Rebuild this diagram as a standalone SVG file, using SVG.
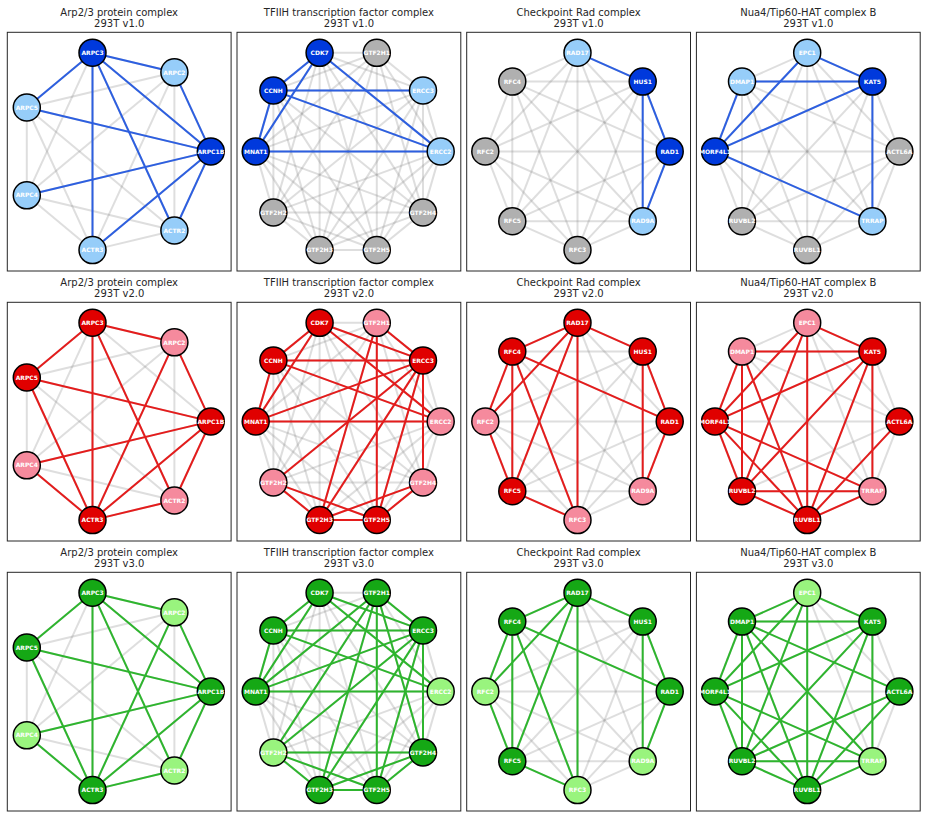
<svg xmlns="http://www.w3.org/2000/svg" xmlns:xlink="http://www.w3.org/1999/xlink" width="926" height="818" viewBox="0 0 926 818">
<style>
  .frame { fill: none; stroke: #262626; stroke-width: 1; }
  .t { font-family: "DejaVu Sans", sans-serif; font-size: 10px; fill: #262626; text-anchor: middle; }
  .bg path { fill: none; stroke: #808080; stroke-opacity: 0.26; stroke-width: 2; }
  .eb path, .er path, .eg path { fill: none; stroke-width: 2; }
  .eb path { stroke: #2D5FE0; }
  .er path { stroke: #E41C1C; }
  .eg path { stroke: #2EB52E; }
  circle { stroke: #000; stroke-width: 1.5; }
  .bd { fill: #0039DC; } .bl { fill: #96CDF9; } .gy { fill: #B0B0B0; }
  .rd { fill: #E00000; } .rl { fill: #F58A9D; }
  .gd { fill: #15A815; } .gl { fill: #99F47E; }
  .n text { font-family: "DejaVu Sans", sans-serif; font-size: 6px; font-weight: bold; fill: #fff; text-anchor: middle; }
</style>
<defs>
  <!-- complete graphs on 7, 10 and 8 nodes, local coordinates -->
  <g id="k7" class="bg">
    <path d="M96.8 0L60.4-79.1"/><path d="M96.8 0L-21.5-98.7"/><path d="M96.8 0L-87.2-43.9"/><path d="M96.8 0L-87.2 43.9"/><path d="M96.8 0L-21.5 98.7"/><path d="M96.8 0L60.4 79.1"/>
    <path d="M60.4-79.1L-21.5-98.7"/><path d="M60.4-79.1L-87.2-43.9"/><path d="M60.4-79.1L-87.2 43.9"/><path d="M60.4-79.1L-21.5 98.7"/><path d="M60.4-79.1L60.4 79.1"/>
    <path d="M-21.5-98.7L-87.2-43.9"/><path d="M-21.5-98.7L-87.2 43.9"/><path d="M-21.5-98.7L-21.5 98.7"/><path d="M-21.5-98.7L60.4 79.1"/>
    <path d="M-87.2-43.9L-87.2 43.9"/><path d="M-87.2-43.9L-21.5 98.7"/><path d="M-87.2-43.9L60.4 79.1"/>
    <path d="M-87.2 43.9L-21.5 98.7"/><path d="M-87.2 43.9L60.4 79.1"/>
    <path d="M-21.5 98.7L60.4 79.1"/>
  </g>
  <g id="k10" class="bg">
    <path d="M92.5 0L74.8-61"/><path d="M92.5 0L28.6-98.6"/><path d="M92.5 0L-28.6-98.6"/><path d="M92.5 0L-74.8-61"/><path d="M92.5 0L-92.5 0"/><path d="M92.5 0L-74.8 61"/><path d="M92.5 0L-28.6 98.6"/><path d="M92.5 0L28.6 98.6"/><path d="M92.5 0L74.8 61"/>
    <path d="M74.8-61L28.6-98.6"/><path d="M74.8-61L-28.6-98.6"/><path d="M74.8-61L-74.8-61"/><path d="M74.8-61L-92.5 0"/><path d="M74.8-61L-74.8 61"/><path d="M74.8-61L-28.6 98.6"/><path d="M74.8-61L28.6 98.6"/><path d="M74.8-61L74.8 61"/>
    <path d="M28.6-98.6L-28.6-98.6"/><path d="M28.6-98.6L-74.8-61"/><path d="M28.6-98.6L-92.5 0"/><path d="M28.6-98.6L-74.8 61"/><path d="M28.6-98.6L-28.6 98.6"/><path d="M28.6-98.6L28.6 98.6"/><path d="M28.6-98.6L74.8 61"/>
    <path d="M-28.6-98.6L-74.8-61"/><path d="M-28.6-98.6L-92.5 0"/><path d="M-28.6-98.6L-74.8 61"/><path d="M-28.6-98.6L-28.6 98.6"/><path d="M-28.6-98.6L28.6 98.6"/><path d="M-28.6-98.6L74.8 61"/>
    <path d="M-74.8-61L-92.5 0"/><path d="M-74.8-61L-74.8 61"/><path d="M-74.8-61L-28.6 98.6"/><path d="M-74.8-61L28.6 98.6"/><path d="M-74.8-61L74.8 61"/>
    <path d="M-92.5 0L-74.8 61"/><path d="M-92.5 0L-28.6 98.6"/><path d="M-92.5 0L28.6 98.6"/><path d="M-92.5 0L74.8 61"/>
    <path d="M-74.8 61L-28.6 98.6"/><path d="M-74.8 61L28.6 98.6"/><path d="M-74.8 61L74.8 61"/>
    <path d="M-28.6 98.6L28.6 98.6"/><path d="M-28.6 98.6L74.8 61"/>
    <path d="M28.6 98.6L74.8 61"/>
  </g>
  <g id="k8" class="bg">
    <path d="M92.2 0L65.2-69.8"/><path d="M92.2 0L0-98.7"/><path d="M92.2 0L-65.2-69.8"/><path d="M92.2 0L-92.2 0"/><path d="M92.2 0L-65.2 69.8"/><path d="M92.2 0L0 98.7"/><path d="M92.2 0L65.2 69.8"/>
    <path d="M65.2-69.8L0-98.7"/><path d="M65.2-69.8L-65.2-69.8"/><path d="M65.2-69.8L-92.2 0"/><path d="M65.2-69.8L-65.2 69.8"/><path d="M65.2-69.8L0 98.7"/><path d="M65.2-69.8L65.2 69.8"/>
    <path d="M0-98.7L-65.2-69.8"/><path d="M0-98.7L-92.2 0"/><path d="M0-98.7L-65.2 69.8"/><path d="M0-98.7L0 98.7"/><path d="M0-98.7L65.2 69.8"/>
    <path d="M-65.2-69.8L-92.2 0"/><path d="M-65.2-69.8L-65.2 69.8"/><path d="M-65.2-69.8L0 98.7"/><path d="M-65.2-69.8L65.2 69.8"/>
    <path d="M-92.2 0L-65.2 69.8"/><path d="M-92.2 0L0 98.7"/><path d="M-92.2 0L65.2 69.8"/>
    <path d="M-65.2 69.8L0 98.7"/><path d="M-65.2 69.8L65.2 69.8"/>
    <path d="M0 98.7L65.2 69.8"/>
  </g>
</defs>

<rect width="926" height="818" fill="#fff"/>

<g id="frames">
  <rect class="frame" x="7.3" y="32.3" width="223.8" height="238.7"/>
  <rect class="frame" x="237.0" y="32.3" width="223.8" height="238.7"/>
  <rect class="frame" x="466.7" y="32.3" width="223.8" height="238.7"/>
  <rect class="frame" x="696.4" y="32.3" width="223.8" height="238.7"/>
  <rect class="frame" x="7.3" y="302.3" width="223.8" height="238.7"/>
  <rect class="frame" x="237.0" y="302.3" width="223.8" height="238.7"/>
  <rect class="frame" x="466.7" y="302.3" width="223.8" height="238.7"/>
  <rect class="frame" x="696.4" y="302.3" width="223.8" height="238.7"/>
  <rect class="frame" x="7.3" y="572.3" width="223.8" height="238.7"/>
  <rect class="frame" x="237.0" y="572.3" width="223.8" height="238.7"/>
  <rect class="frame" x="466.7" y="572.3" width="223.8" height="238.7"/>
  <rect class="frame" x="696.4" y="572.3" width="223.8" height="238.7"/>
</g>

<g id="titles">
  <text class="t" x="119.2" y="15.7">Arp2/3 protein complex</text><text class="t" x="119.2" y="27.3">293T v1.0</text>
  <text class="t" x="348.9" y="15.7">TFIIH transcription factor complex</text><text class="t" x="348.9" y="27.3">293T v1.0</text>
  <text class="t" x="578.6" y="15.7">Checkpoint Rad complex</text><text class="t" x="578.6" y="27.3">293T v1.0</text>
  <text class="t" x="808.3" y="15.7">Nua4/Tip60-HAT complex B</text><text class="t" x="808.3" y="27.3">293T v1.0</text>
  <text class="t" x="119.2" y="285.7">Arp2/3 protein complex</text><text class="t" x="119.2" y="297.3">293T v2.0</text>
  <text class="t" x="348.9" y="285.7">TFIIH transcription factor complex</text><text class="t" x="348.9" y="297.3">293T v2.0</text>
  <text class="t" x="578.6" y="285.7">Checkpoint Rad complex</text><text class="t" x="578.6" y="297.3">293T v2.0</text>
  <text class="t" x="808.3" y="285.7">Nua4/Tip60-HAT complex B</text><text class="t" x="808.3" y="297.3">293T v2.0</text>
  <text class="t" x="119.2" y="555.7">Arp2/3 protein complex</text><text class="t" x="119.2" y="567.3">293T v3.0</text>
  <text class="t" x="348.9" y="555.7">TFIIH transcription factor complex</text><text class="t" x="348.9" y="567.3">293T v3.0</text>
  <text class="t" x="578.6" y="555.7">Checkpoint Rad complex</text><text class="t" x="578.6" y="567.3">293T v3.0</text>
  <text class="t" x="808.3" y="555.7">Nua4/Tip60-HAT complex B</text><text class="t" x="808.3" y="567.3">293T v3.0</text>
</g>

<!-- ===== v1.0 ===== -->
<g id="arp-v1" transform="translate(114,151.4)">
  <g id="arp-v1-edges">
    <use xlink:href="#k7"/>
    <g class="eb">
      <path d="M-21.5-98.7L60.4-79.1"/><path d="M-21.5-98.7L-87.2-43.9"/><path d="M-21.5-98.7L96.8 0"/><path d="M-21.5-98.7L-21.5 98.7"/><path d="M-21.5-98.7L60.4 79.1"/>
      <path d="M60.4-79.1L96.8 0"/><path d="M-87.2-43.9L96.8 0"/><path d="M-87.2 43.9L96.8 0"/><path d="M96.8 0L60.4 79.1"/><path d="M96.8 0L-21.5 98.7"/>
    </g>
  </g>
  <g id="arp-v1-ARPC1B" class="n"><circle class="bd" cx="96.8" cy="0" r="13.5"/><text x="96.8" y="2.2">ARPC1B</text></g>
  <g id="arp-v1-ARPC2" class="n"><circle class="bl" cx="60.4" cy="-79.1" r="13.5"/><text x="60.4" y="-76.9">ARPC2</text></g>
  <g id="arp-v1-ARPC3" class="n"><circle class="bd" cx="-21.5" cy="-98.7" r="13.5"/><text x="-21.5" y="-96.5">ARPC3</text></g>
  <g id="arp-v1-ARPC5" class="n"><circle class="bl" cx="-87.2" cy="-43.9" r="13.5"/><text x="-87.2" y="-41.7">ARPC5</text></g>
  <g id="arp-v1-ARPC4" class="n"><circle class="bl" cx="-87.2" cy="43.9" r="13.5"/><text x="-87.2" y="46.1">ARPC4</text></g>
  <g id="arp-v1-ACTR3" class="n"><circle class="bl" cx="-21.5" cy="98.7" r="13.5"/><text x="-21.5" y="100.9">ACTR3</text></g>
  <g id="arp-v1-ACTR2" class="n"><circle class="bl" cx="60.4" cy="79.1" r="13.5"/><text x="60.4" y="81.3">ACTR2</text></g>
</g>

<g id="tfiih-v1" transform="translate(348.2,151.4)">
  <g id="tfiih-v1-edges">
    <use xlink:href="#k10"/>
    <g class="eb">
      <path d="M-28.6-98.6L-74.8-61"/><path d="M-28.6-98.6L-92.5 0"/><path d="M-28.6-98.6L92.5 0"/><path d="M-74.8-61L74.8-61"/><path d="M-74.8-61L92.5 0"/><path d="M-74.8-61L-92.5 0"/><path d="M-92.5 0L92.5 0"/>
    </g>
  </g>
  <g id="tfiih-v1-ERCC2" class="n"><circle class="bl" cx="92.5" cy="0" r="13.5"/><text x="92.5" y="2.2">ERCC2</text></g>
  <g id="tfiih-v1-ERCC3" class="n"><circle class="bl" cx="74.8" cy="-61" r="13.5"/><text x="74.8" y="-58.8">ERCC3</text></g>
  <g id="tfiih-v1-GTF2H1" class="n"><circle class="gy" cx="28.6" cy="-98.6" r="13.5"/><text x="28.6" y="-96.4">GTF2H1</text></g>
  <g id="tfiih-v1-CDK7" class="n"><circle class="bd" cx="-28.6" cy="-98.6" r="13.5"/><text x="-28.6" y="-96.4">CDK7</text></g>
  <g id="tfiih-v1-CCNH" class="n"><circle class="bd" cx="-74.8" cy="-61" r="13.5"/><text x="-74.8" y="-58.8">CCNH</text></g>
  <g id="tfiih-v1-MNAT1" class="n"><circle class="bd" cx="-92.5" cy="0" r="13.5"/><text x="-92.5" y="2.2">MNAT1</text></g>
  <g id="tfiih-v1-GTF2H2" class="n"><circle class="gy" cx="-74.8" cy="61" r="13.5"/><text x="-74.8" y="63.2">GTF2H2</text></g>
  <g id="tfiih-v1-GTF2H3" class="n"><circle class="gy" cx="-28.6" cy="98.6" r="13.5"/><text x="-28.6" y="100.8">GTF2H3</text></g>
  <g id="tfiih-v1-GTF2H5" class="n"><circle class="gy" cx="28.6" cy="98.6" r="13.5"/><text x="28.6" y="100.8">GTF2H5</text></g>
  <g id="tfiih-v1-GTF2H4" class="n"><circle class="gy" cx="74.8" cy="61" r="13.5"/><text x="74.8" y="63.2">GTF2H4</text></g>
</g>

<g id="rad-v1" transform="translate(577.5,151.4)">
  <g id="rad-v1-edges">
    <use xlink:href="#k8"/>
    <g class="eb">
      <path d="M0-98.7L65.2-69.8"/><path d="M65.2-69.8L92.2 0"/><path d="M65.2-69.8L65.2 69.8"/><path d="M92.2 0L65.2 69.8"/>
    </g>
  </g>
  <g id="rad-v1-RAD1" class="n"><circle class="bd" cx="92.2" cy="0" r="13.5"/><text x="92.2" y="2.2">RAD1</text></g>
  <g id="rad-v1-HUS1" class="n"><circle class="bd" cx="65.2" cy="-69.8" r="13.5"/><text x="65.2" y="-67.6">HUS1</text></g>
  <g id="rad-v1-RAD17" class="n"><circle class="bl" cx="0" cy="-98.7" r="13.5"/><text x="0" y="-96.5">RAD17</text></g>
  <g id="rad-v1-RFC4" class="n"><circle class="gy" cx="-65.2" cy="-69.8" r="13.5"/><text x="-65.2" y="-67.6">RFC4</text></g>
  <g id="rad-v1-RFC2" class="n"><circle class="gy" cx="-92.2" cy="0" r="13.5"/><text x="-92.2" y="2.2">RFC2</text></g>
  <g id="rad-v1-RFC5" class="n"><circle class="gy" cx="-65.2" cy="69.8" r="13.5"/><text x="-65.2" y="72">RFC5</text></g>
  <g id="rad-v1-RFC3" class="n"><circle class="gy" cx="0" cy="98.7" r="13.5"/><text x="0" y="100.9">RFC3</text></g>
  <g id="rad-v1-RAD9A" class="n"><circle class="bl" cx="65.2" cy="69.8" r="13.5"/><text x="65.2" y="72">RAD9A</text></g>
</g>

<g id="nua4-v1" transform="translate(807.2,151.4)">
  <g id="nua4-v1-edges">
    <use xlink:href="#k8"/>
    <g class="eb">
      <path d="M0-98.7L65.2-69.8"/><path d="M0-98.7L-92.2 0"/><path d="M-65.2-69.8L65.2-69.8"/><path d="M-65.2-69.8L-92.2 0"/><path d="M65.2-69.8L-92.2 0"/><path d="M65.2-69.8L65.2 69.8"/><path d="M-92.2 0L65.2 69.8"/>
    </g>
  </g>
  <g id="nua4-v1-ACTL6A" class="n"><circle class="gy" cx="92.2" cy="0" r="13.5"/><text x="92.2" y="2.2">ACTL6A</text></g>
  <g id="nua4-v1-KAT5" class="n"><circle class="bd" cx="65.2" cy="-69.8" r="13.5"/><text x="65.2" y="-67.6">KAT5</text></g>
  <g id="nua4-v1-EPC1" class="n"><circle class="bl" cx="0" cy="-98.7" r="13.5"/><text x="0" y="-96.5">EPC1</text></g>
  <g id="nua4-v1-DMAP1" class="n"><circle class="bl" cx="-65.2" cy="-69.8" r="13.5"/><text x="-65.2" y="-67.6">DMAP1</text></g>
  <g id="nua4-v1-MORF4L1" class="n"><circle class="bd" cx="-92.2" cy="0" r="13.5"/><text x="-92.2" y="2.2">MORF4L1</text></g>
  <g id="nua4-v1-RUVBL2" class="n"><circle class="gy" cx="-65.2" cy="69.8" r="13.5"/><text x="-65.2" y="72">RUVBL2</text></g>
  <g id="nua4-v1-RUVBL1" class="n"><circle class="gy" cx="0" cy="98.7" r="13.5"/><text x="0" y="100.9">RUVBL1</text></g>
  <g id="nua4-v1-TRRAP" class="n"><circle class="bl" cx="65.2" cy="69.8" r="13.5"/><text x="65.2" y="72">TRRAP</text></g>
</g>

<!-- ===== v2.0 ===== -->
<g id="arp-v2" transform="translate(114,421.4)">
  <g id="arp-v2-edges">
    <use xlink:href="#k7"/>
    <g class="er">
      <path d="M-21.5-98.7L60.4-79.1"/><path d="M-21.5-98.7L-87.2-43.9"/><path d="M-21.5-98.7L-21.5 98.7"/><path d="M-21.5-98.7L60.4 79.1"/>
      <path d="M60.4-79.1L96.8 0"/><path d="M60.4-79.1L-21.5 98.7"/><path d="M-87.2-43.9L96.8 0"/><path d="M-87.2-43.9L-21.5 98.7"/>
      <path d="M-87.2 43.9L96.8 0"/><path d="M-87.2 43.9L-21.5 98.7"/><path d="M96.8 0L-21.5 98.7"/><path d="M96.8 0L60.4 79.1"/><path d="M-21.5 98.7L60.4 79.1"/>
    </g>
  </g>
  <g id="arp-v2-ARPC1B" class="n"><circle class="rd" cx="96.8" cy="0" r="13.5"/><text x="96.8" y="2.2">ARPC1B</text></g>
  <g id="arp-v2-ARPC2" class="n"><circle class="rl" cx="60.4" cy="-79.1" r="13.5"/><text x="60.4" y="-76.9">ARPC2</text></g>
  <g id="arp-v2-ARPC3" class="n"><circle class="rd" cx="-21.5" cy="-98.7" r="13.5"/><text x="-21.5" y="-96.5">ARPC3</text></g>
  <g id="arp-v2-ARPC5" class="n"><circle class="rd" cx="-87.2" cy="-43.9" r="13.5"/><text x="-87.2" y="-41.7">ARPC5</text></g>
  <g id="arp-v2-ARPC4" class="n"><circle class="rl" cx="-87.2" cy="43.9" r="13.5"/><text x="-87.2" y="46.1">ARPC4</text></g>
  <g id="arp-v2-ACTR3" class="n"><circle class="rd" cx="-21.5" cy="98.7" r="13.5"/><text x="-21.5" y="100.9">ACTR3</text></g>
  <g id="arp-v2-ACTR2" class="n"><circle class="rl" cx="60.4" cy="79.1" r="13.5"/><text x="60.4" y="81.3">ACTR2</text></g>
</g>

<g id="tfiih-v2" transform="translate(348.2,421.4)">
  <g id="tfiih-v2-edges">
    <use xlink:href="#k10"/>
    <g class="er">
      <path d="M-28.6-98.6L-74.8-61"/><path d="M-28.6-98.6L-92.5 0"/><path d="M-28.6-98.6L74.8-61"/><path d="M-28.6-98.6L92.5 0"/>
      <path d="M-74.8-61L-92.5 0"/><path d="M-74.8-61L74.8-61"/><path d="M-74.8-61L92.5 0"/><path d="M-92.5 0L74.8-61"/><path d="M-92.5 0L92.5 0"/>
      <path d="M28.6-98.6L74.8-61"/><path d="M28.6-98.6L-28.6 98.6"/><path d="M28.6-98.6L28.6 98.6"/>
      <path d="M74.8-61L-74.8 61"/><path d="M74.8-61L-28.6 98.6"/><path d="M74.8-61L28.6 98.6"/><path d="M74.8-61L74.8 61"/>
      <path d="M-74.8 61L-28.6 98.6"/><path d="M-74.8 61L28.6 98.6"/><path d="M-28.6 98.6L28.6 98.6"/><path d="M-28.6 98.6L74.8 61"/><path d="M28.6 98.6L74.8 61"/>
    </g>
  </g>
  <g id="tfiih-v2-ERCC2" class="n"><circle class="rl" cx="92.5" cy="0" r="13.5"/><text x="92.5" y="2.2">ERCC2</text></g>
  <g id="tfiih-v2-ERCC3" class="n"><circle class="rd" cx="74.8" cy="-61" r="13.5"/><text x="74.8" y="-58.8">ERCC3</text></g>
  <g id="tfiih-v2-GTF2H1" class="n"><circle class="rl" cx="28.6" cy="-98.6" r="13.5"/><text x="28.6" y="-96.4">GTF2H1</text></g>
  <g id="tfiih-v2-CDK7" class="n"><circle class="rd" cx="-28.6" cy="-98.6" r="13.5"/><text x="-28.6" y="-96.4">CDK7</text></g>
  <g id="tfiih-v2-CCNH" class="n"><circle class="rd" cx="-74.8" cy="-61" r="13.5"/><text x="-74.8" y="-58.8">CCNH</text></g>
  <g id="tfiih-v2-MNAT1" class="n"><circle class="rd" cx="-92.5" cy="0" r="13.5"/><text x="-92.5" y="2.2">MNAT1</text></g>
  <g id="tfiih-v2-GTF2H2" class="n"><circle class="rl" cx="-74.8" cy="61" r="13.5"/><text x="-74.8" y="63.2">GTF2H2</text></g>
  <g id="tfiih-v2-GTF2H3" class="n"><circle class="rd" cx="-28.6" cy="98.6" r="13.5"/><text x="-28.6" y="100.8">GTF2H3</text></g>
  <g id="tfiih-v2-GTF2H5" class="n"><circle class="rd" cx="28.6" cy="98.6" r="13.5"/><text x="28.6" y="100.8">GTF2H5</text></g>
  <g id="tfiih-v2-GTF2H4" class="n"><circle class="rl" cx="74.8" cy="61" r="13.5"/><text x="74.8" y="63.2">GTF2H4</text></g>
</g>

<g id="rad-v2" transform="translate(577.5,421.4)">
  <g id="rad-v2-edges">
    <use xlink:href="#k8"/>
    <g class="er">
      <path d="M0-98.7L65.2-69.8"/><path d="M0-98.7L-65.2-69.8"/><path d="M0-98.7L-92.2 0"/><path d="M0-98.7L-65.2 69.8"/><path d="M0-98.7L0 98.7"/>
      <path d="M-65.2-69.8L-92.2 0"/><path d="M-65.2-69.8L-65.2 69.8"/><path d="M-65.2-69.8L0 98.7"/><path d="M-65.2-69.8L92.2 0"/>
      <path d="M65.2-69.8L92.2 0"/><path d="M65.2-69.8L65.2 69.8"/><path d="M92.2 0L65.2 69.8"/><path d="M-92.2 0L-65.2 69.8"/><path d="M-65.2 69.8L0 98.7"/>
    </g>
  </g>
  <g id="rad-v2-RAD1" class="n"><circle class="rd" cx="92.2" cy="0" r="13.5"/><text x="92.2" y="2.2">RAD1</text></g>
  <g id="rad-v2-HUS1" class="n"><circle class="rd" cx="65.2" cy="-69.8" r="13.5"/><text x="65.2" y="-67.6">HUS1</text></g>
  <g id="rad-v2-RAD17" class="n"><circle class="rd" cx="0" cy="-98.7" r="13.5"/><text x="0" y="-96.5">RAD17</text></g>
  <g id="rad-v2-RFC4" class="n"><circle class="rd" cx="-65.2" cy="-69.8" r="13.5"/><text x="-65.2" y="-67.6">RFC4</text></g>
  <g id="rad-v2-RFC2" class="n"><circle class="rl" cx="-92.2" cy="0" r="13.5"/><text x="-92.2" y="2.2">RFC2</text></g>
  <g id="rad-v2-RFC5" class="n"><circle class="rd" cx="-65.2" cy="69.8" r="13.5"/><text x="-65.2" y="72">RFC5</text></g>
  <g id="rad-v2-RFC3" class="n"><circle class="rl" cx="0" cy="98.7" r="13.5"/><text x="0" y="100.9">RFC3</text></g>
  <g id="rad-v2-RAD9A" class="n"><circle class="rl" cx="65.2" cy="69.8" r="13.5"/><text x="65.2" y="72">RAD9A</text></g>
</g>

<g id="nua4-v2" transform="translate(807.2,421.4)">
  <g id="nua4-v2-edges">
    <use xlink:href="#k8"/>
    <g class="er">
      <path d="M0-98.7L65.2-69.8"/><path d="M0-98.7L-92.2 0"/><path d="M0-98.7L-65.2 69.8"/><path d="M0-98.7L0 98.7"/>
      <path d="M-65.2-69.8L65.2-69.8"/><path d="M-65.2-69.8L-92.2 0"/><path d="M-65.2-69.8L-65.2 69.8"/><path d="M-65.2-69.8L0 98.7"/>
      <path d="M65.2-69.8L-92.2 0"/><path d="M65.2-69.8L65.2 69.8"/><path d="M65.2-69.8L-65.2 69.8"/><path d="M65.2-69.8L0 98.7"/>
      <path d="M-92.2 0L-65.2 69.8"/><path d="M-92.2 0L0 98.7"/><path d="M-92.2 0L65.2 69.8"/><path d="M92.2 0L0 98.7"/>
      <path d="M-65.2 69.8L65.2 69.8"/><path d="M-65.2 69.8L0 98.7"/><path d="M0 98.7L65.2 69.8"/>
    </g>
  </g>
  <g id="nua4-v2-ACTL6A" class="n"><circle class="rd" cx="92.2" cy="0" r="13.5"/><text x="92.2" y="2.2">ACTL6A</text></g>
  <g id="nua4-v2-KAT5" class="n"><circle class="rd" cx="65.2" cy="-69.8" r="13.5"/><text x="65.2" y="-67.6">KAT5</text></g>
  <g id="nua4-v2-EPC1" class="n"><circle class="rl" cx="0" cy="-98.7" r="13.5"/><text x="0" y="-96.5">EPC1</text></g>
  <g id="nua4-v2-DMAP1" class="n"><circle class="rl" cx="-65.2" cy="-69.8" r="13.5"/><text x="-65.2" y="-67.6">DMAP1</text></g>
  <g id="nua4-v2-MORF4L1" class="n"><circle class="rd" cx="-92.2" cy="0" r="13.5"/><text x="-92.2" y="2.2">MORF4L1</text></g>
  <g id="nua4-v2-RUVBL2" class="n"><circle class="rd" cx="-65.2" cy="69.8" r="13.5"/><text x="-65.2" y="72">RUVBL2</text></g>
  <g id="nua4-v2-RUVBL1" class="n"><circle class="rd" cx="0" cy="98.7" r="13.5"/><text x="0" y="100.9">RUVBL1</text></g>
  <g id="nua4-v2-TRRAP" class="n"><circle class="rl" cx="65.2" cy="69.8" r="13.5"/><text x="65.2" y="72">TRRAP</text></g>
</g>

<!-- ===== v3.0 ===== -->
<g id="arp-v3" transform="translate(114,691.4)">
  <g id="arp-v3-edges">
    <use xlink:href="#k7"/>
    <g class="eg">
      <path d="M-21.5-98.7L60.4-79.1"/><path d="M-21.5-98.7L-87.2-43.9"/><path d="M-21.5-98.7L-21.5 98.7"/><path d="M-21.5-98.7L60.4 79.1"/><path d="M-21.5-98.7L96.8 0"/>
      <path d="M60.4-79.1L96.8 0"/><path d="M60.4-79.1L-21.5 98.7"/><path d="M-87.2-43.9L96.8 0"/><path d="M-87.2-43.9L-21.5 98.7"/>
      <path d="M-87.2 43.9L96.8 0"/><path d="M-87.2 43.9L-21.5 98.7"/><path d="M96.8 0L-21.5 98.7"/><path d="M96.8 0L60.4 79.1"/><path d="M-21.5 98.7L60.4 79.1"/>
    </g>
  </g>
  <g id="arp-v3-ARPC1B" class="n"><circle class="gd" cx="96.8" cy="0" r="13.5"/><text x="96.8" y="2.2">ARPC1B</text></g>
  <g id="arp-v3-ARPC2" class="n"><circle class="gl" cx="60.4" cy="-79.1" r="13.5"/><text x="60.4" y="-76.9">ARPC2</text></g>
  <g id="arp-v3-ARPC3" class="n"><circle class="gd" cx="-21.5" cy="-98.7" r="13.5"/><text x="-21.5" y="-96.5">ARPC3</text></g>
  <g id="arp-v3-ARPC5" class="n"><circle class="gd" cx="-87.2" cy="-43.9" r="13.5"/><text x="-87.2" y="-41.7">ARPC5</text></g>
  <g id="arp-v3-ARPC4" class="n"><circle class="gl" cx="-87.2" cy="43.9" r="13.5"/><text x="-87.2" y="46.1">ARPC4</text></g>
  <g id="arp-v3-ACTR3" class="n"><circle class="gd" cx="-21.5" cy="98.7" r="13.5"/><text x="-21.5" y="100.9">ACTR3</text></g>
  <g id="arp-v3-ACTR2" class="n"><circle class="gl" cx="60.4" cy="79.1" r="13.5"/><text x="60.4" y="81.3">ACTR2</text></g>
</g>

<g id="tfiih-v3" transform="translate(348.2,691.4)">
  <g id="tfiih-v3-edges">
    <use xlink:href="#k10"/>
    <g class="eg">
      <path d="M-28.6-98.6L-74.8-61"/><path d="M-28.6-98.6L-92.5 0"/><path d="M-28.6-98.6L74.8-61"/><path d="M-28.6-98.6L92.5 0"/>
      <path d="M-74.8-61L-92.5 0"/><path d="M-74.8-61L74.8-61"/><path d="M-74.8-61L92.5 0"/><path d="M-92.5 0L74.8-61"/><path d="M-92.5 0L92.5 0"/><path d="M-92.5 0L28.6-98.6"/>
      <path d="M28.6-98.6L74.8-61"/><path d="M28.6-98.6L-74.8 61"/><path d="M28.6-98.6L-28.6 98.6"/><path d="M28.6-98.6L28.6 98.6"/><path d="M28.6-98.6L74.8 61"/>
      <path d="M74.8-61L-74.8 61"/><path d="M74.8-61L-28.6 98.6"/><path d="M74.8-61L28.6 98.6"/><path d="M74.8-61L74.8 61"/>
      <path d="M-74.8 61L74.8 61"/><path d="M-74.8 61L-28.6 98.6"/><path d="M-74.8 61L28.6 98.6"/><path d="M-28.6 98.6L28.6 98.6"/><path d="M-28.6 98.6L74.8 61"/><path d="M28.6 98.6L74.8 61"/>
    </g>
  </g>
  <g id="tfiih-v3-ERCC2" class="n"><circle class="gl" cx="92.5" cy="0" r="13.5"/><text x="92.5" y="2.2">ERCC2</text></g>
  <g id="tfiih-v3-ERCC3" class="n"><circle class="gd" cx="74.8" cy="-61" r="13.5"/><text x="74.8" y="-58.8">ERCC3</text></g>
  <g id="tfiih-v3-GTF2H1" class="n"><circle class="gd" cx="28.6" cy="-98.6" r="13.5"/><text x="28.6" y="-96.4">GTF2H1</text></g>
  <g id="tfiih-v3-CDK7" class="n"><circle class="gd" cx="-28.6" cy="-98.6" r="13.5"/><text x="-28.6" y="-96.4">CDK7</text></g>
  <g id="tfiih-v3-CCNH" class="n"><circle class="gd" cx="-74.8" cy="-61" r="13.5"/><text x="-74.8" y="-58.8">CCNH</text></g>
  <g id="tfiih-v3-MNAT1" class="n"><circle class="gd" cx="-92.5" cy="0" r="13.5"/><text x="-92.5" y="2.2">MNAT1</text></g>
  <g id="tfiih-v3-GTF2H2" class="n"><circle class="gl" cx="-74.8" cy="61" r="13.5"/><text x="-74.8" y="63.2">GTF2H2</text></g>
  <g id="tfiih-v3-GTF2H3" class="n"><circle class="gd" cx="-28.6" cy="98.6" r="13.5"/><text x="-28.6" y="100.8">GTF2H3</text></g>
  <g id="tfiih-v3-GTF2H5" class="n"><circle class="gd" cx="28.6" cy="98.6" r="13.5"/><text x="28.6" y="100.8">GTF2H5</text></g>
  <g id="tfiih-v3-GTF2H4" class="n"><circle class="gd" cx="74.8" cy="61" r="13.5"/><text x="74.8" y="63.2">GTF2H4</text></g>
</g>

<g id="rad-v3" transform="translate(577.5,691.4)">
  <g id="rad-v3-edges">
    <use xlink:href="#k8"/>
    <g class="eg">
      <path d="M0-98.7L65.2-69.8"/><path d="M0-98.7L-65.2-69.8"/><path d="M0-98.7L-92.2 0"/><path d="M0-98.7L-65.2 69.8"/><path d="M0-98.7L0 98.7"/>
      <path d="M-65.2-69.8L-92.2 0"/><path d="M-65.2-69.8L-65.2 69.8"/><path d="M-65.2-69.8L0 98.7"/><path d="M-65.2-69.8L92.2 0"/>
      <path d="M65.2-69.8L92.2 0"/><path d="M65.2-69.8L65.2 69.8"/><path d="M92.2 0L65.2 69.8"/><path d="M-92.2 0L-65.2 69.8"/><path d="M-65.2 69.8L0 98.7"/>
    </g>
  </g>
  <g id="rad-v3-RAD1" class="n"><circle class="gd" cx="92.2" cy="0" r="13.5"/><text x="92.2" y="2.2">RAD1</text></g>
  <g id="rad-v3-HUS1" class="n"><circle class="gd" cx="65.2" cy="-69.8" r="13.5"/><text x="65.2" y="-67.6">HUS1</text></g>
  <g id="rad-v3-RAD17" class="n"><circle class="gd" cx="0" cy="-98.7" r="13.5"/><text x="0" y="-96.5">RAD17</text></g>
  <g id="rad-v3-RFC4" class="n"><circle class="gd" cx="-65.2" cy="-69.8" r="13.5"/><text x="-65.2" y="-67.6">RFC4</text></g>
  <g id="rad-v3-RFC2" class="n"><circle class="gl" cx="-92.2" cy="0" r="13.5"/><text x="-92.2" y="2.2">RFC2</text></g>
  <g id="rad-v3-RFC5" class="n"><circle class="gd" cx="-65.2" cy="69.8" r="13.5"/><text x="-65.2" y="72">RFC5</text></g>
  <g id="rad-v3-RFC3" class="n"><circle class="gl" cx="0" cy="98.7" r="13.5"/><text x="0" y="100.9">RFC3</text></g>
  <g id="rad-v3-RAD9A" class="n"><circle class="gl" cx="65.2" cy="69.8" r="13.5"/><text x="65.2" y="72">RAD9A</text></g>
</g>

<g id="nua4-v3" transform="translate(807.2,691.4)">
  <g id="nua4-v3-edges">
    <use xlink:href="#k8"/>
    <g class="eg">
      <path d="M92.2 0L-65.2-69.8"/><path d="M92.2 0L-65.2 69.8"/><path d="M92.2 0L0 98.7"/>
      <path d="M65.2-69.8L0-98.7"/><path d="M65.2-69.8L-65.2-69.8"/><path d="M65.2-69.8L-92.2 0"/><path d="M65.2-69.8L-65.2 69.8"/><path d="M65.2-69.8L0 98.7"/><path d="M65.2-69.8L65.2 69.8"/>
      <path d="M0-98.7L-65.2-69.8"/><path d="M0-98.7L-92.2 0"/><path d="M0-98.7L-65.2 69.8"/><path d="M0-98.7L0 98.7"/>
      <path d="M-65.2-69.8L-92.2 0"/><path d="M-65.2-69.8L-65.2 69.8"/><path d="M-65.2-69.8L0 98.7"/><path d="M-65.2-69.8L65.2 69.8"/>
      <path d="M-92.2 0L-65.2 69.8"/><path d="M-92.2 0L0 98.7"/><path d="M-92.2 0L65.2 69.8"/>
      <path d="M-65.2 69.8L0 98.7"/><path d="M-65.2 69.8L65.2 69.8"/><path d="M0 98.7L65.2 69.8"/>
    </g>
  </g>
  <g id="nua4-v3-ACTL6A" class="n"><circle class="gd" cx="92.2" cy="0" r="13.5"/><text x="92.2" y="2.2">ACTL6A</text></g>
  <g id="nua4-v3-KAT5" class="n"><circle class="gd" cx="65.2" cy="-69.8" r="13.5"/><text x="65.2" y="-67.6">KAT5</text></g>
  <g id="nua4-v3-EPC1" class="n"><circle class="gl" cx="0" cy="-98.7" r="13.5"/><text x="0" y="-96.5">EPC1</text></g>
  <g id="nua4-v3-DMAP1" class="n"><circle class="gd" cx="-65.2" cy="-69.8" r="13.5"/><text x="-65.2" y="-67.6">DMAP1</text></g>
  <g id="nua4-v3-MORF4L1" class="n"><circle class="gd" cx="-92.2" cy="0" r="13.5"/><text x="-92.2" y="2.2">MORF4L1</text></g>
  <g id="nua4-v3-RUVBL2" class="n"><circle class="gd" cx="-65.2" cy="69.8" r="13.5"/><text x="-65.2" y="72">RUVBL2</text></g>
  <g id="nua4-v3-RUVBL1" class="n"><circle class="gd" cx="0" cy="98.7" r="13.5"/><text x="0" y="100.9">RUVBL1</text></g>
  <g id="nua4-v3-TRRAP" class="n"><circle class="gl" cx="65.2" cy="69.8" r="13.5"/><text x="65.2" y="72">TRRAP</text></g>
</g>
</svg>
